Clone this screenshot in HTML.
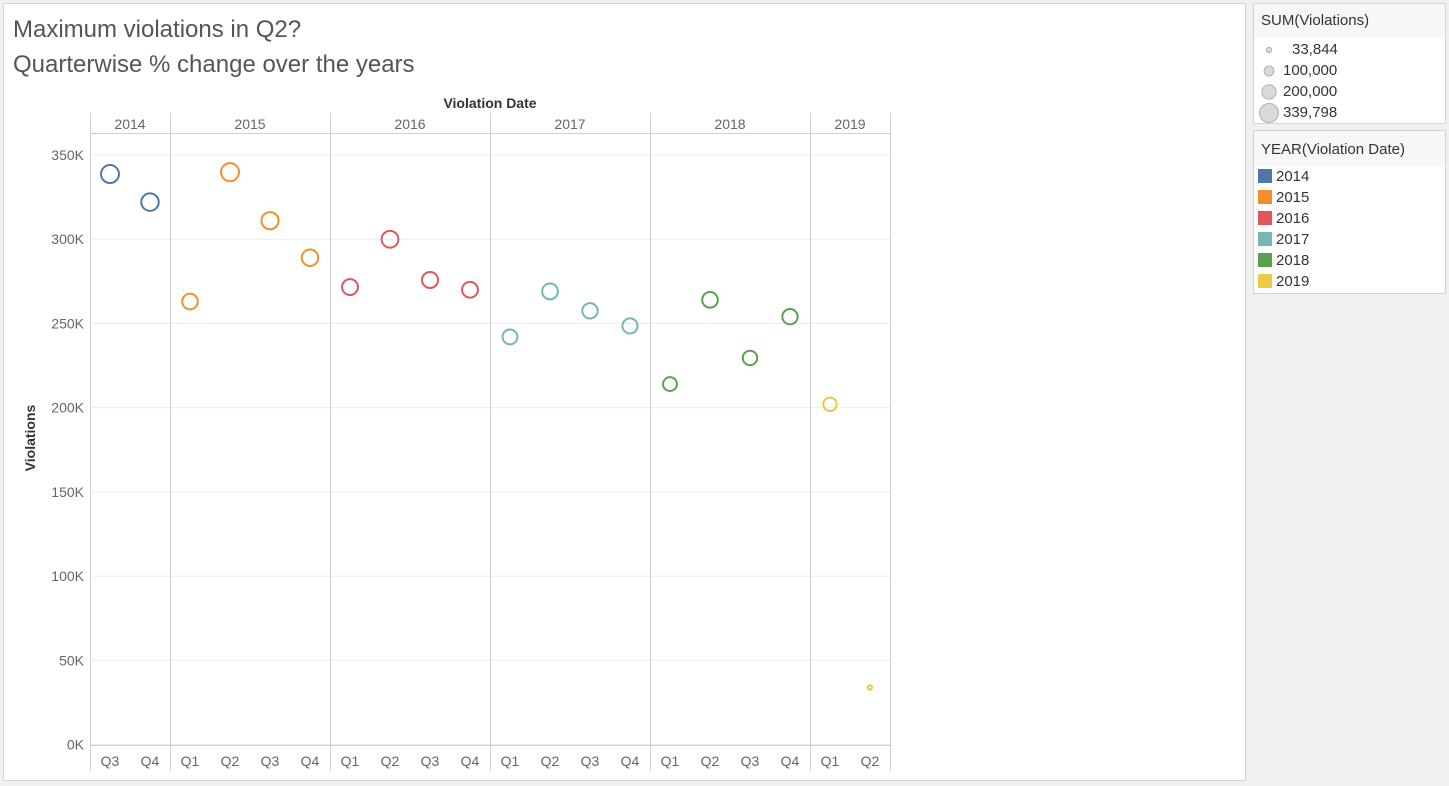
<!DOCTYPE html>
<html><head><meta charset="utf-8"><style>
body{margin:0;width:1449px;height:786px;background:#f0f0f0;font-family:"Liberation Sans",sans-serif;overflow:hidden;position:relative}
#main{position:absolute;left:3px;top:3px;width:1243px;height:778px;background:#fff;border:1px solid #d4d4d4;box-sizing:border-box}
.t{position:absolute;left:13px;font-size:24px;color:#555;font-weight:300}
.leg{position:absolute;left:1253px;width:193px;background:#fff;border:1px solid #d4d4d4;box-sizing:border-box}
.lh{background:#f7f7f7;font-size:15px;color:#333;padding:8px 0 0 7px;height:33px;box-sizing:border-box}
.row{font-size:15px;color:#333;height:21px;line-height:21px;position:relative}
</style></head><body>
<div id="main"></div>
<div class="t" style="top:16px">Maximum violations in Q2?</div>
<div class="t" style="top:51px">Quarterwise % change over the years</div>
<svg id="chart" width="1449" height="786" style="position:absolute;left:0;top:0"></svg>
<div class="leg" style="top:3px;height:121px">
<div class="lh">SUM(Violations)</div>
<div id="sizeRows" style="padding-top:2px"></div>
</div>
<div class="leg" style="top:130px;height:164px">
<div class="lh" style="height:35px;padding-top:10px">YEAR(Violation Date)</div>
<div id="colRows"></div>
</div>
<script>
const years=["2014","2015","2016","2017","2018","2019"];
const colors=["#4e79a7","#f28e2b","#e15759","#76b7b2","#59a14f","#edc948"];
const quarters=["Q3","Q4","Q1","Q2","Q3","Q4","Q1","Q2","Q3","Q4","Q1","Q2","Q3","Q4","Q1","Q2","Q3","Q4","Q1","Q2"];
const pointYear=[0,0,1,1,1,1,2,2,2,2,3,3,3,3,4,4,4,4,5,5];
const values=[338700,322000,263000,339798,311000,289000,271600,300000,275800,270000,242000,269000,257500,248500,214000,264000,229500,254000,202000,33844];
const yTicks=[0,50000,100000,150000,200000,250000,300000,350000];
const yTickLabels=["0K","50K","100K","150K","200K","250K","300K","350K"];
const sizeLegend=[33844,100000,200000,339798];
const sizeLegendLabels=["33,844","100,000","200,000","339,798"];
const NS="http://www.w3.org/2000/svg",svg=document.getElementById('chart');
const X0=90,CW=40,Y0=744.5,YTOP=155,MAXV=350000,maxVal=339798;
const x=i=>X0+CW*i+CW/2, y=v=>Y0-(Y0-YTOP)*v/MAXV, r=v=>10*Math.sqrt(v/maxVal);
function el(t,a,p){const e=document.createElementNS(NS,t);for(const k in a)e.setAttribute(k,a[k]);(p||svg).appendChild(e);return e;}
yTicks.forEach((v,i)=>{
 const g=el('line',{x1:X0,x2:890,y1:y(v),y2:y(v),stroke:'#ececec'});
 
 
 const t=el('text',{x:84,y:y(v)+5,'text-anchor':'end','font-size':14,fill:'#666'});
 t.textContent=yTickLabels[i];
 
 
});
const h=el('text',{x:490,y:108,'text-anchor':'middle','font-size':14,'font-weight':'bold',fill:'#333'});h.textContent='Violation Date';

const yt=el('text',{x:35,y:438,'text-anchor':'middle','font-size':14,'font-weight':'bold',fill:'#333',transform:'rotate(-90 35 438)'});yt.textContent='Violations';

el('line',{x1:X0,x2:890,y1:133.5,y2:133.5,stroke:'#d0d0d0'});
el('line',{x1:X0,x2:890,y1:745.5,y2:745.5,stroke:'#d0d0d0'});
el('line',{x1:X0+.5,x2:X0+.5,y1:113,y2:771,stroke:'#d0d0d0'});
years.forEach((yr,k)=>{
 const idx=pointYear.map((p,i)=>p===k?i:-1).filter(i=>i>=0);
 const a=X0+CW*idx[0],b=X0+CW*(idx[idx.length-1]+1);
 el('line',{x1:b+.5,x2:b+.5,y1:113,y2:771,stroke:'#d0d0d0'});
 const t=el('text',{x:(a+b)/2,y:129,'text-anchor':'middle','font-size':14,fill:'#666'});t.textContent=yr;
 
});
quarters.forEach((q,i)=>{
 const t=el('text',{x:x(i),y:766,'text-anchor':'middle','font-size':14,fill:'#666'});t.textContent=q;
 
});
values.forEach((v,i)=>{
 const c=el('circle',{cx:x(i),cy:y(v),r:r(v)-1,fill:'none',stroke:colors[pointYear[i]],'stroke-width':2});
 
 
});
const sr=document.getElementById('sizeRows');
sizeLegend.forEach((v,i)=>{
 const d=document.createElement('div');d.className='row';
 
 
 const rr=r(v);
 d.innerHTML='<svg width="30" height="21" style="position:absolute;left:0;top:0"><circle cx="15" cy="11" r="'+(rr-0.5)+'" fill="#d9d9d9" stroke="#b0b0b0"/></svg><span style="position:absolute;left:'+(i==0?38:29)+'px">'+sizeLegendLabels[i]+'</span>';
 sr.appendChild(d);
});
const cr=document.getElementById('colRows');
years.forEach((yr,i)=>{
 const d=document.createElement('div');d.className='row';
 
 
 d.innerHTML='<span style="position:absolute;left:4px;top:3px;width:14px;height:14px;background:'+colors[i]+'"></span><span style="position:absolute;left:22px">'+yr+'</span>';
 cr.appendChild(d);
});
</script>
</body></html>
